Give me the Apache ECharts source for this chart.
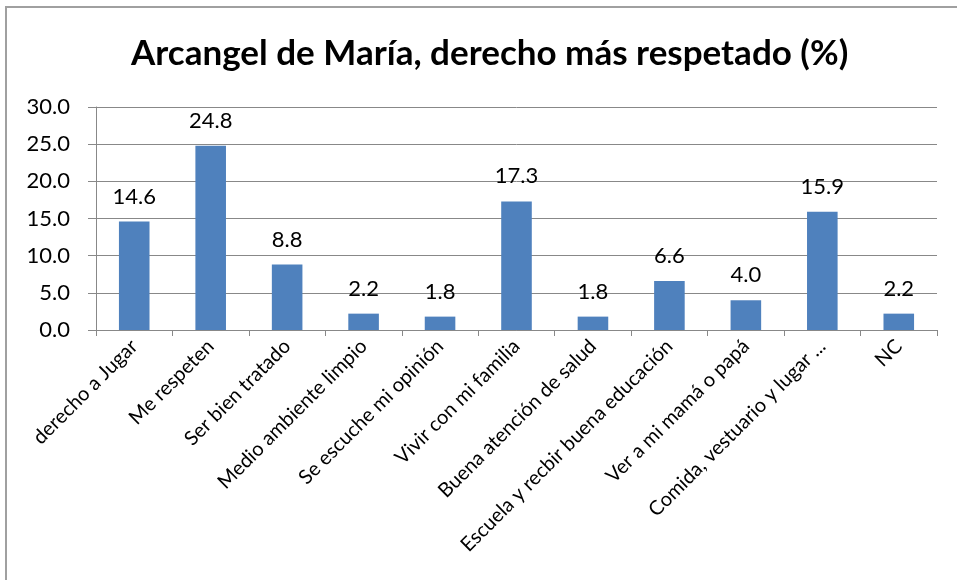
<!DOCTYPE html>
<html>
<head>
<meta charset="utf-8">
<script src="https://cdn.jsdelivr.net/npm/echarts@6/dist/echarts.min.js"></script>
<style>
html,body{margin:0;padding:0;background:#fff;}
#c{width:957px;height:580px;}
</style>
</head>
<body>
<div id="c"></div>
<script>
const titleText = "Arcangel de María, derecho más respetado (%)";
const categories = ["derecho a Jugar", "Me respeten", "Ser bien tratado", "Medio ambiente limpio", "Se escuche mi opinión", "Vivir con mi familia", "Buena atención de salud", "Escuela y recbir buena educación", "Ver a mi mamá o papá", "Comida, vestuario y lugar ...", "NC"];
const values = [14.6, 24.8, 8.8, 2.2, 1.8, 17.3, 1.8, 6.6, 4.0, 15.9, 2.2];
const yMin = 0, yMax = 30, yStep = 5;

const FONT = "Lato, 'Open Sans', sans-serif";
const chart = echarts.init(document.getElementById('c'), null, {renderer: 'canvas'});
chart.setOption({
  backgroundColor: '#fff',
  animation: false,
  title: {
    text: titleText,
    left: 126,
    top: 31,
    textStyle: {fontFamily: FONT, fontSize: 35, fontWeight: 'bold', color: '#000'}
  },
  graphic: [{
    type: 'rect',
    shape: {x: 6, y: 7, width: 1200, height: 1200},
    style: {fill: 'none', stroke: '#a0a0a0', lineWidth: 2},
    silent: true
  }],
  grid: {left: 96, right: 20, top: 107, bottom: 250},
  xAxis: {
    type: 'category',
    data: categories,
    axisLine: {lineStyle: {color: '#888', width: 1}},
    axisTick: {show: true, length: 6, alignWithLabel: false, lineStyle: {color: '#888'}},
    axisLabel: {rotate: 45, interval: 0, margin: 13, fontFamily: FONT, fontSize: 20, color: '#000'}
  },
  yAxis: {
    type: 'value',
    min: yMin, max: yMax, interval: yStep,
    axisLine: {show: true, lineStyle: {color: '#888', width: 1}},
    axisTick: {show: true, length: 8, lineStyle: {color: '#888'}},
    splitLine: {lineStyle: {color: '#888', width: 1}},
    axisLabel: {margin: 26, fontFamily: FONT, fontSize: 22, color: '#000', formatter: v => v.toFixed(1)}
  },
  series: [{
    type: 'bar',
    data: values,
    barWidth: '40%',
    itemStyle: {color: '#4F81BD'},
    label: {show: true, position: 'top', distance: 14, fontFamily: FONT, fontSize: 22, color: '#000', formatter: p => p.value.toFixed(1)}
  }]
});
</script>
</body>
</html>
